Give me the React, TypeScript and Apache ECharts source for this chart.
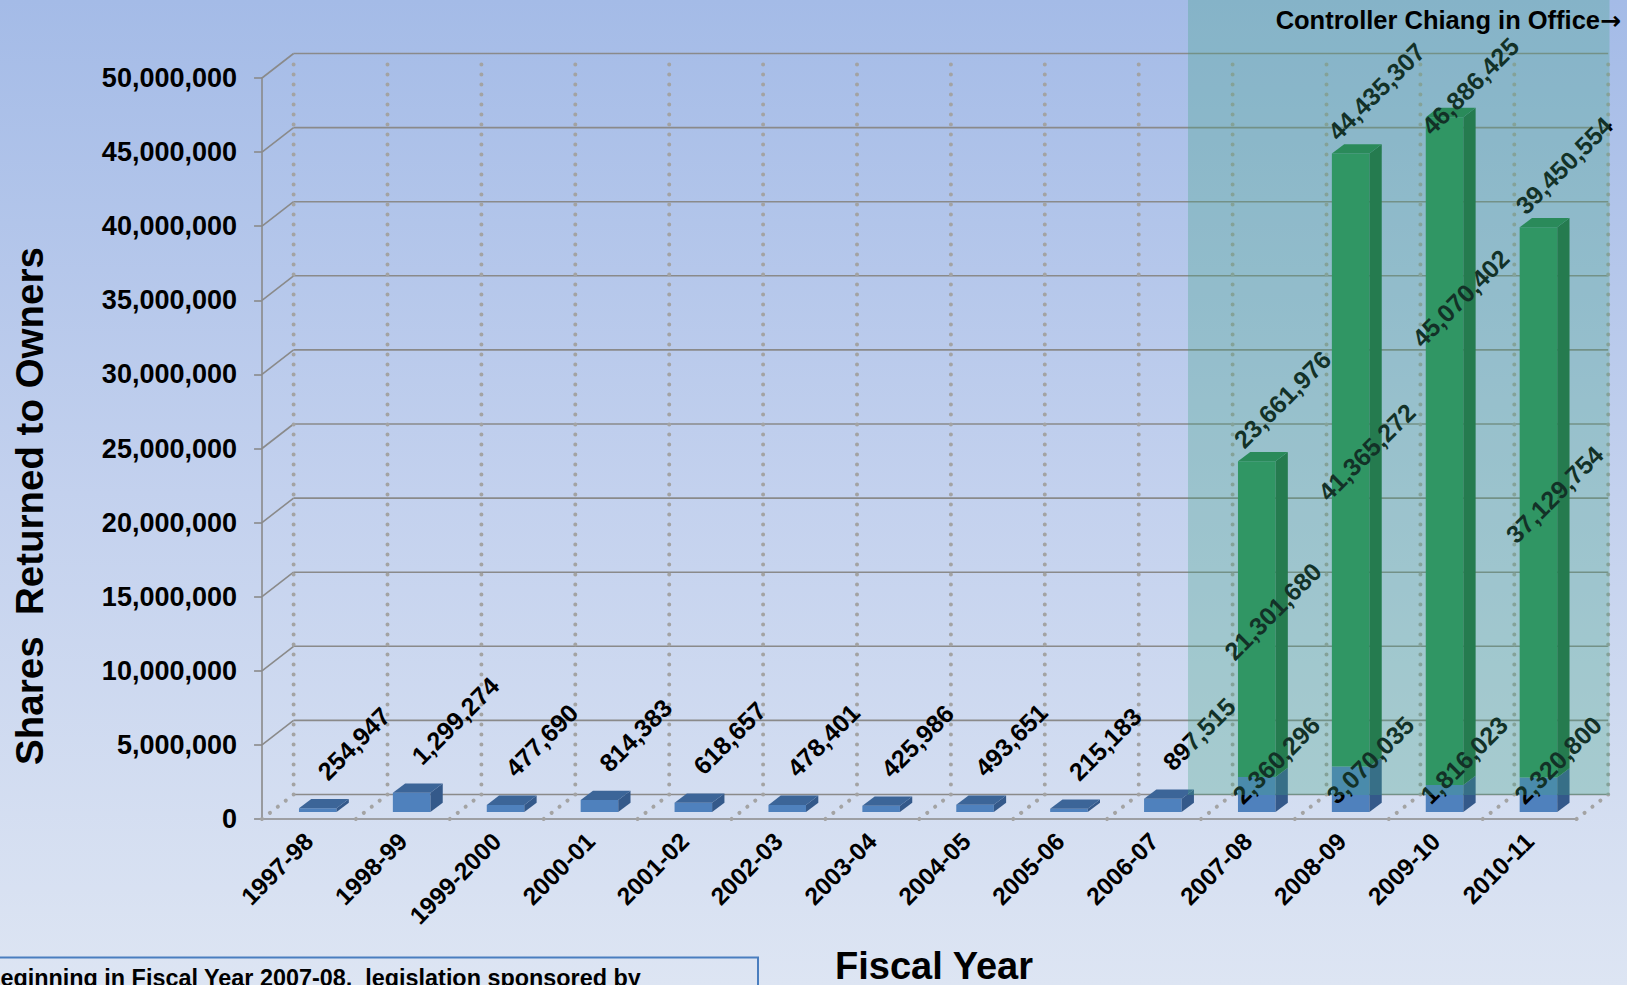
import React, { useEffect, useRef } from "react";
import * as echarts from "echarts";

const categories = [
  "1997-98", "1998-99", "1999-2000", "2000-01", "2001-02", "2002-03", "2003-04",
  "2004-05", "2005-06", "2006-07", "2007-08", "2008-09", "2009-10", "2010-11",
];
const blueShares = [
  254947, 1299274, 477690, 814383, 618657, 478401, 425986, 493651, 215183, 897515,
  2360296, 3070035, 1816023, 2320800,
];
const greenShares = [0, 0, 0, 0, 0, 0, 0, 0, 0, 0, 21301680, 41365272, 45070402, 37129754];
const yTicks = [0, 5000000, 10000000, 15000000, 20000000, 25000000, 30000000, 35000000, 40000000, 45000000, 50000000];
const yMax = 50000000;
const yInterval = 5000000;

const FONT = "'Liberation Sans', Arial, sans-serif";
// pseudo-3D geometry (pixels)
const BACK_DX = 31.6;
const BACK_DY = -24.5;
const BAR_DX = 8.8;
const BAR_DY = -7;
const DEPTH_DX = 12.3;
const DEPTH_DY = -9.3;
const GRID_COLOR = "#8a8a8a";
const DOT_COLOR = "#a3a3a3";
const LABEL_SIZE = 25;

const fmt = (v: number) => v.toLocaleString("en-US");

export default function App() {
  const ref = useRef<HTMLDivElement>(null);
  useEffect(() => {
    document.body.style.margin = "0";
    const chart = echarts.init(ref.current!, null, { renderer: "svg" });
    const n = categories.length;

    const wallSeries = {
      type: "custom",
      silent: true,
      z: 1,
      data: yTicks.map((v) => [0, v]),
      renderItem: (params: any, api: any) => {
        const v = api.value(1);
        const p = api.coord([0, v]);
        const band = api.size([1, 0])[0];
        const xl = p[0] - band / 2;
        const xr = xl + n * band;
        const y = p[1];
        const children: any[] = [
          {
            type: "line",
            shape: { x1: xl + BACK_DX, y1: y + BACK_DY, x2: xr + BACK_DX, y2: y + BACK_DY },
            style: { stroke: GRID_COLOR, lineWidth: 1.6 },
          },
        ];
        if (v > 0) {
          children.push({
            type: "line",
            shape: { x1: xl, y1: y, x2: xl + BACK_DX, y2: y + BACK_DY },
            style: { stroke: GRID_COLOR, lineWidth: 1.6 },
          });
        }
        return { type: "group", children };
      },
    };

    const dotted = (x1: number, y1: number, x2: number, y2: number) => ({
      type: "line",
      shape: { x1, y1, x2, y2 },
      style: { stroke: DOT_COLOR, lineWidth: 4, lineDash: [0.1, 9.9], lineCap: "round" },
    });

    const boundarySeries = {
      type: "custom",
      silent: true,
      z: 1,
      data: categories.map((c, i) => [i, 0]),
      renderItem: (params: any, api: any) => {
        const i = api.value(0);
        const p = api.coord([i, 0]);
        const top = api.coord([i, yMax])[1];
        const band = api.size([1, 0])[0];
        const xs = [p[0] - band / 2];
        if (i === n - 1) xs.push(p[0] + band / 2);
        const children: any[] = [];
        xs.forEach((x) => {
          children.push(dotted(x + BACK_DX, p[1] + BACK_DY, x + BACK_DX, top + BACK_DY + 6));
          children.push(dotted(x, p[1], x + BACK_DX, p[1] + BACK_DY));
        });
        return { type: "group", children };
      },
    };

    const box = (xl: number, xr: number, yb: number, yt: number, front: string, side: string, top: string | null) => {
      const els: any[] = [
        { type: "polygon", shape: { points: [[xl, yb], [xr, yb], [xr, yt], [xl, yt]] }, style: { fill: front } },
        {
          type: "polygon",
          shape: { points: [[xr, yb], [xr + DEPTH_DX, yb + DEPTH_DY], [xr + DEPTH_DX, yt + DEPTH_DY], [xr, yt]] },
          style: { fill: side },
        },
      ];
      if (top) {
        els.push({
          type: "polygon",
          shape: { points: [[xl, yt], [xr, yt], [xr + DEPTH_DX, yt + DEPTH_DY], [xl + DEPTH_DX, yt + DEPTH_DY]] },
          style: { fill: top },
        });
      }
      return els;
    };

    const label = (text: string, x: number, y: number, align: string, vAlign: string) => ({
      type: "text",
      x,
      y,
      rotation: Math.PI / 4,
      style: {
        text,
        fill: "#000",
        fontSize: LABEL_SIZE,
        fontWeight: "bold",
        fontFamily: FONT,
        align,
        verticalAlign: vAlign,
      },
    });

    const barSeries = {
      type: "custom",
      silent: true,
      z: 3,
      data: categories.map((c, i) => [i, blueShares[i], greenShares[i]]),
      renderItem: (params: any, api: any) => {
        const i = api.value(0);
        const blue = api.value(1);
        const green = api.value(2);
        const band = api.size([1, 0])[0];
        const c = api.coord([i, 0]);
        const cx = c[0] + BAR_DX;
        const y0 = c[1] + BAR_DY;
        const hw = band * 0.2;
        const yB = api.coord([i, blue])[1] + BAR_DY;
        const yT = api.coord([i, blue + green])[1] + BAR_DY;
        const children: any[] = [];
        children.push(...box(cx - hw, cx + hw, y0, yB, "#4f81bd", "#34598a", green > 0 ? null : "#3c6598"));
        if (green > 0) {
          children.push(...box(cx - hw, cx + hw, yB, yT, "#2a9158", "#1a6a3a", "#22804a"));
          // green label centred on segment, lifted when it would collide with the previous one
          const greenCenter = (k: number): number => {
            const b = api.coord([k, blueShares[k]])[1] + BAR_DY;
            const t = api.coord([k, blueShares[k] + greenShares[k]])[1] + BAR_DY;
            let m = (b + t) / 2 - 8;
            if (k > 0 && greenShares[k - 1] > 0) {
              const prev = greenCenter(k - 1);
              if (Math.abs(m - prev) < 100) m -= 145;
            }
            return m;
          };
          children.push(label(fmt(green), cx + 16, greenCenter(i), "center", "middle"));
          children.push(label(fmt(blue), cx - 11, y0 - 4, "left", "bottom"));
          const minStart = api.coord([i, yMax])[1] + BAR_DY + 68;
          children.push(label(fmt(blue + green), cx - hw + 9, Math.max(yT - 9, minStart), "left", "bottom"));
        } else {
          children.push(label(fmt(blue), cx + 13, yB - 24, "left", "bottom"));
        }
        return { type: "group", children };
      },
    };

    const option: any = {
      animation: false,
      backgroundColor: "transparent",
      textStyle: { fontFamily: FONT },
      grid: { left: 262, top: 78, width: 1314.6, height: 741, containLabel: false },
      xAxis: {
        type: "category",
        data: categories,
        axisLine: { show: true, lineStyle: { color: GRID_COLOR, width: 1.6 } },
        axisTick: { show: false },
        splitLine: { show: false },
        axisLabel: {
          interval: 0,
          rotate: 45,
          margin: 18,
          fontSize: 24.5,
          fontWeight: "bold",
          color: "#000",
          fontFamily: FONT,
        },
      },
      yAxis: {
        type: "value",
        min: 0,
        max: yMax,
        interval: yInterval,
        axisLine: { show: true, lineStyle: { color: GRID_COLOR, width: 1.6 } },
        axisTick: { show: true, length: 8, lineStyle: { color: GRID_COLOR, width: 1.6 } },
        splitLine: { show: false },
        axisLabel: {
          margin: 25,
          fontSize: 27,
          fontWeight: "bold",
          color: "#000",
          fontFamily: FONT,
          formatter: (v: number) => fmt(v),
        },
      },
      graphic: [
        {
          type: "rect",
          z: 100,
          silent: true,
          shape: { x: 1188, y: 0, width: 421.5, height: 795 },
          style: { fill: "rgba(63,162,128,0.3)" },
        },
        {
          type: "text",
          z: 101,
          x: 1621,
          y: 20,
          style: {
            text: "{t|Controller Chiang in Office}{a|\u2192}",
            align: "right",
            verticalAlign: "middle",
            rich: {
              t: { fill: "#000", fontSize: 25.5, fontWeight: "bold", fontFamily: FONT },
              a: { fill: "#000", fontSize: 25, fontWeight: "bold", fontFamily: "'DejaVu Sans', sans-serif" },
            },
          },
        },
        {
          type: "text",
          x: 29,
          y: 506,
          rotation: Math.PI / 2,
          style: {
            text: "Shares  Returned to Owners",
            fill: "#000",
            fontSize: 38.5,
            fontWeight: "bold",
            fontFamily: FONT,
            align: "center",
            verticalAlign: "middle",
          },
        },
        {
          type: "text",
          x: 934,
          y: 966,
          style: {
            text: "Fiscal Year",
            fill: "#000",
            fontSize: 38,
            fontWeight: "bold",
            fontFamily: FONT,
            align: "center",
            verticalAlign: "middle",
          },
        },
        {
          type: "rect",
          shape: { x: -10, y: 957.5, width: 768, height: 60 },
          style: { fill: "transparent", stroke: "#4a7ebf", lineWidth: 2 },
        },
        {
          type: "text",
          x: -16.5,
          y: 966,
          style: {
            text: "Beginning in Fiscal Year 2007-08,  legislation sponsored by",
            fill: "#000",
            fontSize: 23.4,
            fontWeight: "bold",
            fontFamily: FONT,
            align: "left",
            verticalAlign: "top",
          },
        },
      ],
      series: [wallSeries, boundarySeries, barSeries],
    };
    chart.setOption(option);
    return () => chart.dispose();
  }, []);
  return (
    <div
      ref={ref}
      style={{
        position: "fixed",
        left: 0,
        top: 0,
        width: 1627,
        height: 985,
        background: "linear-gradient(to bottom, #a4bbe7 0%, #c3d1ee 50%, #dde5f3 100%)",
      }}
    />
  );
}
